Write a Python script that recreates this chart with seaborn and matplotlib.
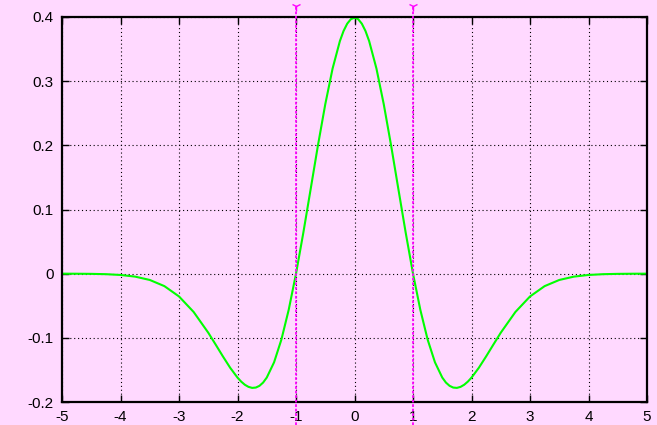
import matplotlib
matplotlib.use("Agg")
import matplotlib.pyplot as plt
import seaborn as sns
import pandas as pd

# Data
x_vals = [-5.0, -4.75, -4.5, -4.25, -4.0, -3.75, -3.5, -3.25, -3.0, -2.75,
          -2.5, -2.375, -2.25, -2.125, -2.0, -1.9375, -1.875, -1.8125, -1.75, -1.6875,
          -1.625, -1.5625, -1.5, -1.375, -1.25, -1.125, -1.0, -0.875, -0.75, -0.625,
          -0.5, -0.375, -0.25, -0.1875, -0.125, -0.0625, 0.0, 0.0625, 0.125, 0.1875,
          0.25, 0.375, 0.5, 0.625, 0.75, 0.875, 1.0, 1.125, 1.25, 1.375,
          1.5, 1.5625, 1.625, 1.6875, 1.75, 1.8125, 1.875, 1.9375, 2.0, 2.125,
          2.25, 2.375, 2.5, 2.75, 3.0, 3.25, 3.5, 3.75, 4.0, 4.25,
          4.5, 4.75, 5.0]
y_vals = [-0.0000, -0.0001, -0.0003, -0.0008, -0.0020, -0.0046, -0.0098, -0.0194, -0.0355, -0.0597,
          -0.0920, -0.1103, -0.1289, -0.1467, -0.1620, -0.1682, -0.1731, -0.1764, -0.1780, -0.1775,
          -0.1748, -0.1697, -0.1619, -0.1381, -0.1027, -0.0563, 0.0000, 0.0638, 0.1317, 0.2000,
          0.2640, 0.3196, 0.3625, 0.3782, 0.3896, 0.3966, 0.3989, 0.3966, 0.3896, 0.3782,
          0.3625, 0.3196, 0.2640, 0.2000, 0.1317, 0.0638, 0.0000, -0.0563, -0.1027, -0.1381,
          -0.1619, -0.1697, -0.1748, -0.1775, -0.1780, -0.1764, -0.1731, -0.1682, -0.1620, -0.1467,
          -0.1289, -0.1103, -0.0920, -0.0597, -0.0355, -0.0194, -0.0098, -0.0046, -0.0020, -0.0008,
          -0.0003, -0.0001, -0.0000]
marker_x = [-1, 1]
x_ticks = [-5, -4, -3, -2, -1, 0, 1, 2, 3, 4, 5]
y_ticks = [-0.2, -0.1, 0, 0.1, 0.2, 0.3, 0.4]
y_labels = ["-0.2", "-0.1", "0", "0.1", "0.2", "0.3", "0.4"]

df = pd.DataFrame({"x": x_vals, "y": y_vals})

bg = "#ffd9ff"
sns.set_theme(style="ticks")
plt.rcParams["font.family"] = ["Liberation Sans", "DejaVu Sans"]

fig = plt.figure(figsize=(6.57, 4.25), dpi=100, facecolor=bg)
ax = fig.add_axes([0.0944, 0.0541, 0.8904, 0.9059])
ax.set_facecolor(bg)

ax.grid(True, color="black", linestyle=(0, (1, 2.5)), linewidth=0.8)

sns.lineplot(data=df, x="x", y="y", ax=ax, color="#00ff00", linewidth=1.5)

# Magenta markers at x = -1, 1
for mx in marker_x:
    ax.axvline(mx, ymin=-0.06, ymax=1.028, color="#ff00ff", linestyle=(0, (1.5, 1.0)),
               linewidth=1.3, clip_on=False, zorder=4)
    ax.plot([mx], [1.028], marker="1", markersize=7, color="#ff00ff",
            transform=ax.get_xaxis_transform(), clip_on=False, zorder=4)

ax.set_xlim(-5, 5)
ax.set_ylim(-0.2, 0.4)
ax.set_xticks(x_ticks)
ax.set_xticklabels([str(t) for t in x_ticks])
ax.set_yticks(y_ticks)
ax.set_yticklabels(y_labels)
ax.set_xlabel("")
ax.set_ylabel("")

ax.tick_params(direction="in", top=True, right=True, length=5, width=1,
               labelsize=11, colors="black", pad=6)
for s in ax.spines.values():
    s.set_visible(True)
    s.set_color("black")
    s.set_linewidth(1.6)

fig.savefig("out.png", dpi=100, facecolor=bg)
